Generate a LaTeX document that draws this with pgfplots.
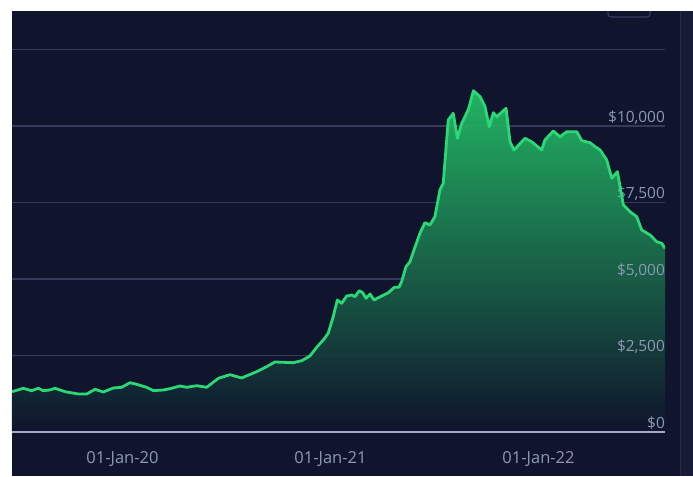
\documentclass[border=0pt]{standalone}
\usepackage{fontspec}
\setmainfont{Open Sans}
\usepackage{pgfplots}
\usepackage{pgfplotstable}
\pgfplotsset{compat=1.18}
\definecolor{bg}{RGB}{16,20,45}
\definecolor{panel}{RGB}{24,27,54}
\definecolor{panelline}{RGB}{40,43,72}
\definecolor{gridc}{RGB}{55,58,90}
\definecolor{zeroc}{RGB}{165,168,198}
\definecolor{labc}{RGB}{140,154,180}
\definecolor{linec}{RGB}{42,217,118}
\definecolor{filltop}{RGB}{36,196,104}

\pgfplotstableread{
x y
2019.469 1317
2019.523 1428
2019.563 1350
2019.595 1428
2019.619 1350
2019.651 1373
2019.675 1428
2019.724 1317
2019.788 1242
2019.828 1242
2019.868 1395
2019.908 1307
2019.956 1438
2019.996 1461
2020.036 1611
2020.068 1559
2020.116 1461
2020.148 1350
2020.196 1373
2020.228 1415
2020.276 1503
2020.309 1461
2020.357 1513
2020.405 1461
2020.461 1755
2020.517 1873
2020.573 1765
2020.645 1971
2020.693 2134
2020.733 2288
2020.821 2265
2020.862 2330
2020.901 2484
2020.934 2768
2020.965 3007
2020.989 3226
2021.013 3768
2021.033 4314
2021.054 4206
2021.078 4444
2021.102 4477
2021.118 4422
2021.138 4618
2021.155 4552
2021.171 4369
2021.190 4510
2021.209 4314
2021.246 4444
2021.278 4552
2021.307 4729
2021.329 4729
2021.342 4912
2021.363 5402
2021.382 5565
2021.406 6036
2021.430 6494
2021.454 6840
2021.478 6765
2021.502 7036
2021.526 7909
2021.542 8128
2021.566 10196
2021.590 10415
2021.610 9598
2021.631 10088
2021.663 10546
2021.687 11154
2021.719 10958
2021.743 10631
2021.763 9977
2021.783 10435
2021.799 10304
2021.844 10579
2021.863 9487
2021.882 9216
2021.935 9598
2021.967 9487
2022.015 9216
2022.031 9543
2022.071 9837
2022.103 9650
2022.136 9814
2022.184 9814
2022.208 9520
2022.248 9454
2022.272 9324
2022.296 9216
2022.328 8889
2022.352 8291
2022.379 8507
2022.408 7418
2022.440 7200
2022.472 7036
2022.496 6601
2022.536 6438
2022.568 6219
2022.592 6167
2022.608 6003
}\pricedata

\pgfplotsset{base/.style={
  at={(12pt,44pt)}, anchor=south west,
  scale only axis, width=653pt, height=421pt,
  xmin=2019.469, xmax=2022.608, ymin=0, ymax=13758,
  axis line style={draw=none},
  major tick length=0pt,
  scaled y ticks=false,
}}

\begin{document}
\begin{tikzpicture}[x=1pt,y=1pt]
\fill[white] (0,0) rectangle (693,476);
\fill[bg] (12,0) rectangle (693,465);
\fill[panel] (681,0) rectangle (693,465);
\draw[panelline, line width=1.5pt] (680.5,0) -- (680.5,465);
\draw[gridc, line width=1.2pt, rounded corners=3pt] (608,459) rectangle (650,472);
\fill[white] (0,465) rectangle (693,476);
\begin{axis}[
  base,
  ytick={0,2500,5000,7500,10000,12500},
  yticklabels={},
  ymajorgrids, grid style={gridc, line width=1.5pt},
  xtick={2020,2021,2022},
  xticklabels={01-Jan-20,01-Jan-21,01-Jan-22},
  xticklabel style={anchor=base, yshift=-31pt, text=labc,
    font=\fontsize{16.5}{18}\selectfont},
]
\addplot[draw=none, top color=filltop, bottom color=bg, fill opacity=0.9] table {\pricedata} \closedcycle;
\draw[zeroc, line width=2pt] (axis cs:2019.469,0) -- (axis cs:2022.608,0);
\end{axis}
\begin{axis}[
  base,
  xtick=\empty,
  ytick={0,2500,5000,7500,10000},
  yticklabel pos=right,
  yticklabel={\$\pgfmathprintnumber[assume math mode=true,1000 sep={,},fixed]{\tick}},
  yticklabel style={anchor=base east, inner xsep=0pt, yshift=3.5pt, text=labc,
    font=\fontsize{15.4}{17}\selectfont},
]
\addplot[linec, line width=2.8pt, line join=round] table {\pricedata};
\end{axis}
\end{tikzpicture}
\end{document}
